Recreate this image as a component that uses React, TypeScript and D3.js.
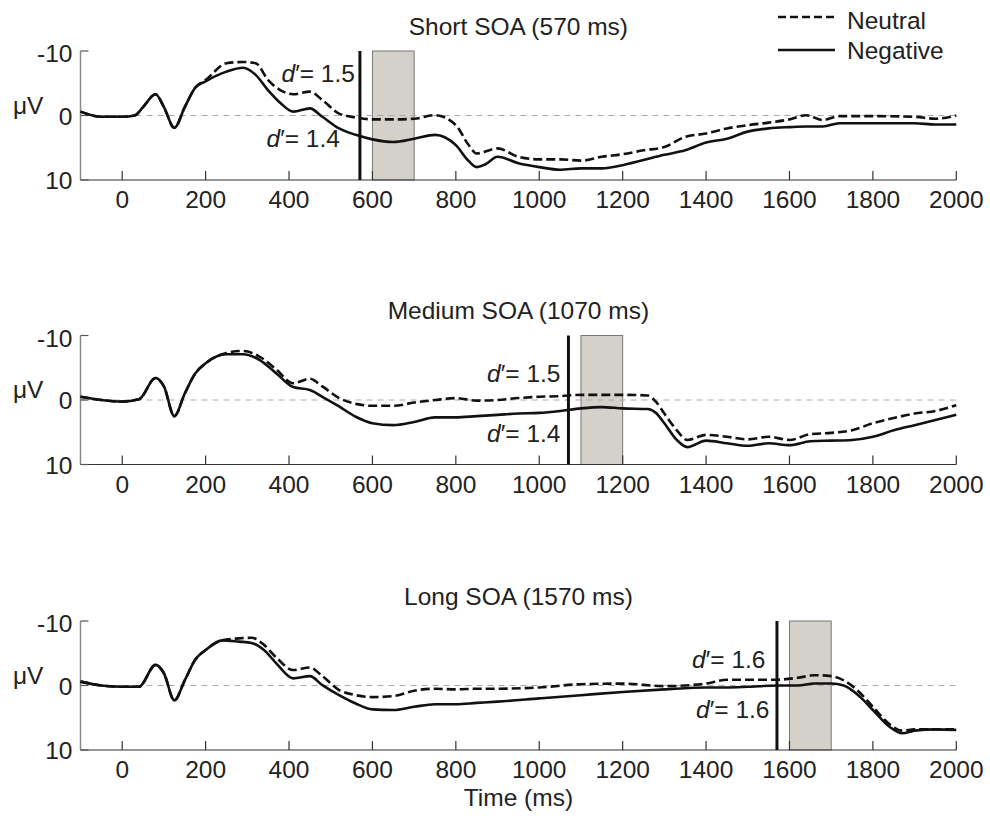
import React from "react";
import * as d3 from "d3";

// ---------- data ----------
const panelTitles = ["Short SOA (570 ms)", "Medium SOA (1070 ms)", "Long SOA (1570 ms)"];
const soaOnsets = [570, 1070, 1570];
const boxStarts = [600, 1100, 1600];
const boxEnds = [700, 1200, 1700];
const dNeutral = ["1.5", "1.5", "1.6"];
const dNegative = ["1.4", "1.4", "1.6"];
const xTicks = [0, 200, 400, 600, 800, 1000, 1200, 1400, 1600, 1800, 2000];
const yTicks = [-10, 0, 10];
const seriesNames = ["Neutral", "Negative"];

const shortTime = [-100, -50, 0, 30, 50, 80, 100, 125, 150, 175, 200, 250, 290, 320, 350, 380, 410, 450, 480, 520, 560, 600, 650, 700, 750, 800, 830, 850, 870, 900, 950, 1000, 1050, 1100, 1150, 1200, 1250, 1300, 1350, 1400, 1450, 1500, 1550, 1600, 1640, 1680, 1720, 1800, 1900, 1950, 2000];
const shortNeutral = [-0.6, 0.2, 0.2, 0, -1.3, -3.3, -1.3, 1.9, -1.3, -4.3, -5.5, -8.1, -8.3, -8.1, -5.5, -3.9, -3.3, -3.7, -2.4, -0.3, 0.3, 0.6, 0.6, 0.5, -0.05, 1.5, 4.5, 5.9, 5.6, 5.1, 6.4, 6.8, 6.8, 7.0, 6.4, 6.0, 5.4, 4.9, 3.3, 2.8, 2.0, 1.5, 1.1, 0.6, -0.05, 0.7, 0.1, 0.1, 0.2, 0.5, 0];
const shortNegative = [-0.6, 0.2, 0.2, 0, -1.3, -3.3, -1.3, 1.9, -1.3, -4.3, -5.3, -6.8, -7.4, -6.3, -3.9, -1.9, -0.6, -1.1, 0.2, 2.0, 3.0, 3.7, 4.1, 3.6, 3.0, 4.6, 7.0, 8.0, 7.6, 6.4, 7.4, 8.0, 8.4, 8.2, 8.2, 7.7, 6.9, 6.1, 5.4, 4.2, 3.6, 2.5, 2.0, 1.8, 1.7, 1.7, 1.2, 1.2, 1.2, 1.4, 1.4];

const mediumTime = [-100, -50, 0, 40, 80, 100, 125, 150, 175, 200, 250, 290, 330, 370, 410, 450, 480, 520, 560, 600, 650, 700, 750, 800, 850, 900, 950, 1000, 1050, 1100, 1150, 1200, 1260, 1280, 1300, 1330, 1355, 1400, 1450, 1500, 1550, 1600, 1650, 1700, 1750, 1800, 1850, 1900, 1950, 2000];
const mediumNeutral = [-0.5, 0, 0.25, -0.1, -3.4, -2.1, 2.5, -1.0, -4.1, -5.7, -7.3, -7.6, -6.7, -4.7, -2.6, -3.3, -2.1, -0.3, 0.6, 0.9, 0.9, 0.4, 0, -0.3, 0.1, 0, -0.3, -0.5, -0.6, -0.8, -0.8, -0.8, -0.7, 0.3, 2.1, 4.7, 6.2, 5.4, 5.7, 6.1, 5.7, 6.2, 5.3, 5.1, 4.7, 3.6, 2.8, 2.1, 1.7, 0.8];
const mediumNegative = [-0.5, 0, 0.25, -0.1, -3.4, -2.1, 2.5, -1.0, -4.1, -5.7, -7.1, -7.1, -6.2, -4.1, -2.0, -1.55, -0.5, 1.0, 2.6, 3.6, 3.9, 3.4, 2.7, 2.7, 2.5, 2.3, 2.1, 2.0, 1.7, 1.3, 1.1, 1.3, 1.4, 2.0, 3.6, 6.2, 7.3, 6.3, 6.7, 7.1, 6.7, 7.0, 6.4, 6.3, 6.2, 5.7, 4.7, 3.9, 3.1, 2.3];

const longTime = [-100, -50, 0, 40, 80, 100, 125, 150, 175, 200, 240, 280, 310, 340, 370, 410, 450, 480, 520, 560, 600, 650, 700, 750, 800, 850, 900, 1000, 1100, 1200, 1300, 1400, 1450, 1500, 1570, 1620, 1660, 1700, 1730, 1770, 1800, 1840, 1870, 1900, 1950, 2000];
const longNeutral = [-0.6, 0, 0.2, 0.2, -3.2, -1.9, 2.3, -0.8, -4.0, -5.5, -7.0, -7.3, -7.4, -6.3, -4.3, -2.4, -2.8, -1.45, 0.7, 1.5, 1.8, 1.65, 0.8, 0.5, 0.6, 0.5, 0.5, 0.3, -0.2, -0.3, 0.1, -0.3, -0.9, -0.9, -0.9, -1.2, -1.6, -1.45, -0.8, 1.2, 3.3, 6.0, 7.0, 6.8, 6.8, 6.8];
const longNegative = [-0.6, 0, 0.2, 0.2, -3.2, -1.9, 2.3, -0.8, -4.0, -5.5, -7.0, -6.8, -6.6, -5.5, -3.4, -1.1, -1.45, -0.05, 1.5, 2.8, 3.7, 3.8, 3.3, 2.9, 2.9, 2.7, 2.5, 2.0, 1.5, 1.0, 0.6, 0.3, 0.3, 0.2, 0, 0, -0.3, -0.3, 0, 1.8, 3.8, 6.4, 7.4, 7.0, 6.8, 6.9];

const panelTimes = [shortTime, mediumTime, longTime];
const panelNeutral = [shortNeutral, mediumNeutral, longNeutral];
const panelNegative = [shortNegative, mediumNegative, longNegative];

// ---------- layout ----------
const W = 990;
const H = 816;
const X0 = 80.5;
const X1 = 956.3;
const panelTops = [51, 335.5, 621];
const PH = 129;
const FONT = "'Liberation Sans', Arial, Helvetica, sans-serif";
const FS = 24.5;

// d' label placement (value on y scale, offset from onset line)
const dNeuY = [-5.24, -2.84, -2.71];
const dNegY = [4.84, 6.47, 5.04];
const dNeuDx = [5, 8, 11.5];
const dNegDx = [20, 8, 7.5];

const x = d3.scaleLinear().domain([-100, 2000]).range([X0, X1]);

function Panel({ i }: { i: number }) {
  const top = panelTops[i];
  const y = d3.scaleLinear().domain([-10, 10]).range([top, top + PH]);
  const t = panelTimes[i];
  const line = d3
    .line<number>()
    .x((_, k) => x(t[k]))
    .y((v) => y(v))
    .curve(d3.curveMonotoneX);
  const soaX = x(soaOnsets[i]);
  return (
    <g>
      <text x={(X0 + X1) / 2} y={top - 16.5} textAnchor="middle" fontSize={FS} fill="#222">
        {panelTitles[i]}
      </text>
      {/* gray box */}
      <rect
        x={x(boxStarts[i])}
        y={y(-10)}
        width={x(boxEnds[i]) - x(boxStarts[i])}
        height={y(10) - y(-10)}
        fill="#d4d0ca"
        stroke="#777"
        strokeWidth={1}
      />
      {/* zero line */}
      <line x1={X0} x2={X1} y1={y(0)} y2={y(0)} stroke="#aaa" strokeWidth={1} strokeDasharray="6,5" />
      {/* axes */}
      <line x1={X0} x2={X0} y1={y(-10)} y2={y(10)} stroke="#888" strokeWidth={1.5} />
      <line x1={X0} x2={X1} y1={y(10)} y2={y(10)} stroke="#333" strokeWidth={1.2} />
      {xTicks.map((v) => (
        <g key={v}>
          <line x1={x(v)} x2={x(v)} y1={y(10)} y2={y(10) - 9} stroke="#333" strokeWidth={1.2} />
          <text x={x(v)} y={y(10) + 28} textAnchor="middle" fontSize={FS} fill="#222">
            {v}
          </text>
        </g>
      ))}
      {yTicks.map((v) => (
        <g key={v}>
          <line x1={X0} x2={X0 + 8} y1={y(v)} y2={y(v)} stroke="#555" strokeWidth={1.2} />
          <text x={72.5} y={y(v) + (v === -10 ? 11 : 9)} textAnchor="end" fontSize={FS} fill="#222">
            {v}
          </text>
        </g>
      ))}
      <text x={13} y={y(0) - 2} fontSize={FS} fill="#222">
        μV
      </text>
      {/* series */}
      <path d={line(panelNeutral[i]) || ""} fill="none" stroke="#111" strokeWidth={2.6} strokeDasharray="9,4" />
      <path d={line(panelNegative[i]) || ""} fill="none" stroke="#111" strokeWidth={2.6} />
      {/* SOA onset */}
      <line x1={soaX} x2={soaX} y1={y(-10)} y2={y(10)} stroke="#111" strokeWidth={3} />
      {/* d' labels */}
      <text x={soaX - dNeuDx[i]} y={y(dNeuY[i])} textAnchor="end" fontSize={FS} fill="#222">
        <tspan fontStyle="italic">d</tspan>
        <tspan>′= {dNeutral[i]}</tspan>
      </text>
      <text x={soaX - dNegDx[i]} y={y(dNegY[i])} textAnchor="end" fontSize={FS} fill="#222">
        <tspan fontStyle="italic">d</tspan>
        <tspan>′= {dNegative[i]}</tspan>
      </text>
    </g>
  );
}

export default function App() {
  return (
    <svg
      width={W}
      height={H}
      style={{ position: "absolute", left: 0, top: 0, background: "#fff" }}
      fontFamily={FONT}
    >
      {[0, 1, 2].map((i) => (
        <Panel key={i} i={i} />
      ))}
      {/* legend */}
      <line x1={778} x2={835} y1={17} y2={17} stroke="#111" strokeWidth={2.6} strokeDasharray="8,4" />
      <text x={847} y={28.5} fontSize={FS} fill="#222">
        {seriesNames[0]}
      </text>
      <line x1={778} x2={835} y1={50} y2={50} stroke="#111" strokeWidth={2.6} />
      <text x={847} y={58.5} fontSize={FS} fill="#222">
        {seriesNames[1]}
      </text>
      <text x={(X0 + X1) / 2} y={806} textAnchor="middle" fontSize={FS} fill="#222">
        Time (ms)
      </text>
    </svg>
  );
}
